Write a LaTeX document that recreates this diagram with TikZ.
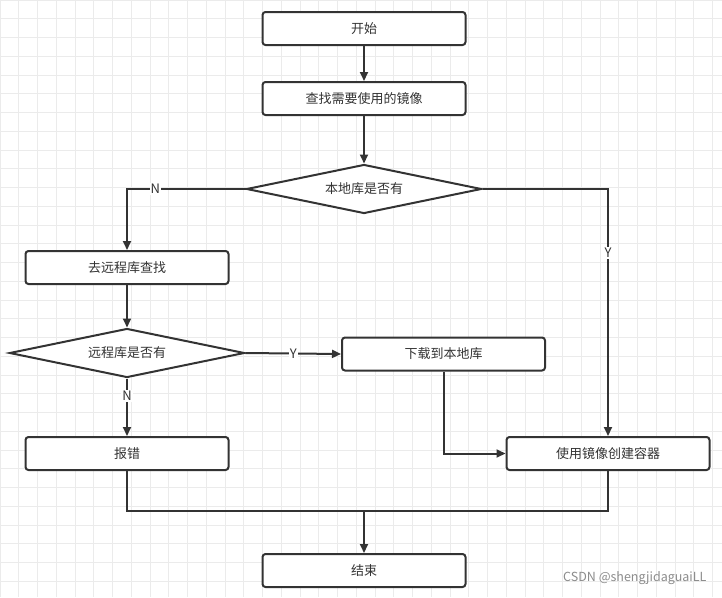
\documentclass[tikz,border=0pt]{standalone}
\usepackage{fontspec}
\setmainfont{Noto Sans CJK SC}
\usetikzlibrary{shapes.geometric,arrows.meta}
\definecolor{ln}{HTML}{333333}
\begin{document}
\begin{tikzpicture}[x=1pt,y=-1pt,
  box/.style={draw=ln,line width=2pt,rounded corners=3pt,minimum width=203pt,minimum height=33pt,fill=white,font=\fontsize{13}{15}\selectfont,text=ln},
  dia/.style={draw=ln,line width=2pt,diamond,aspect=4.8,inner sep=0pt,minimum width=235pt,minimum height=49pt,fill=white,font=\fontsize{13}{15}\selectfont,text=ln},
  ar/.style={draw=ln,line width=2pt,-{Triangle[length=9pt,width=8pt]}},
  ln/.style={draw=ln,line width=2pt},
  lab/.style={fill=white,inner sep=1pt,font=\fontsize{13}{15}\selectfont,text=ln}]
\useasboundingbox (0,0) rectangle (722,597);
\fill[white] (0,0) rectangle (722,597);
\foreach \i in {0,...,38} {
  \draw[black!8,line width=0.6pt] (\i*18.75,0) -- (\i*18.75,597);
  \draw[black!8,line width=0.6pt] (0,\i*18.75) -- (722,\i*18.75);
}
\node[box] (start) at (364,28.5) {开始};
\node[box] (search) at (364,98.5) {查找需要使用的镜像};
\node[dia] (d1) at (364,189) {本地库是否有};
\node[box] (remote) at (127,267.5) {去远程库查找};
\node[dia] (d2) at (127,353) {远程库是否有};
\node[box] (down) at (443.5,354) {下载到本地库};
\node[box] (err) at (127,453.5) {报错};
\node[box] (use) at (608,453.5) {使用镜像创建容器};
\node[box] (end) at (364,570.5) {结束};
\coordinate (j) at (364,511);
\draw[ar] (start) -- (search);
\draw[ar] (search) -- (d1);
\draw[ar] (d1.west) -| node[lab,pos=0.38]{N} (remote.north);
\draw[ar] (d1.east) -| node[lab,pos=0.63]{Y} (use.north);
\draw[ar] (remote) -- (d2);
\draw[ar] (d2.east) -- node[lab]{Y} (down.west);
\draw[ar] (d2.south) -- node[lab,pos=0.3]{N} (err.north);
\draw[ar] (down.south) |- (use.west);
\draw[ln] (err.south) |- (j) -| (use.south);
\draw[ar] (j) -- (end.north);
\node[text=black!45,font=\fontsize{12.5}{14}\selectfont,anchor=east] (wm) at (710,578) {CSDN @shengjidaguaiLL};
\end{tikzpicture}
\end{document}
